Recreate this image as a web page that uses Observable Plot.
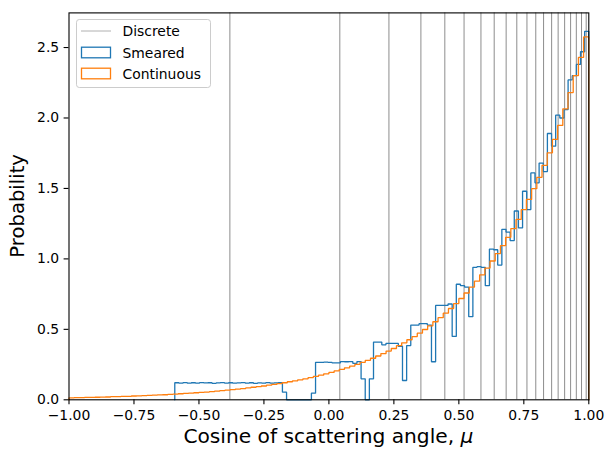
<!DOCTYPE html>
<html>
<head>
<meta charset="utf-8">
<script src="https://cdn.jsdelivr.net/npm/d3@7"></script>
<script src="https://cdn.jsdelivr.net/npm/@observablehq/plot@0.6"></script>
<style>
  html, body { margin: 0; padding: 0; background: white; }
  #chart { width: 606px; height: 450px; }
  svg { display: block; }
</style>
</head>
<body>
<div id="chart"></div>
<script>
// ---- Data ----
const xTicks = [-1, -0.75, -0.5, -0.25, 0, 0.25, 0.5, 0.75, 1];
const yTicks = [0, 0.5, 1, 1.5, 2, 2.5];

// Discrete scattering cosines (vertical lines)
const discreteMu = [-0.381, 0.042, 0.231, 0.354, 0.446, 0.520, 0.585, 0.636, 0.682, 0.723,
                    0.762, 0.796, 0.826, 0.857, 0.882, 0.907, 0.930, 0.952, 0.972, 0.990];

// Continuous histogram: 100 equal bins over this range
const continuousRange = [-1, 1];
const continuousDensity = [
  0.014,0.015,0.016,0.017,0.017,0.018,0.019,0.020,0.022,0.023,
  0.024,0.025,0.027,0.028,0.030,0.031,0.033,0.035,0.036,0.038,
  0.040,0.043,0.045,0.047,0.050,0.053,0.055,0.058,0.061,0.065,
  0.068,0.072,0.076,0.080,0.084,0.089,0.093,0.098,0.104,0.109,
  0.115,0.121,0.128,0.135,0.142,0.149,0.158,0.166,0.175,0.184,
  0.194,0.205,0.216,0.227,0.239,0.252,0.266,0.280,0.295,0.311,
  0.328,0.346,0.364,0.384,0.404,0.426,0.449,0.473,0.499,0.525,
  0.554,0.583,0.615,0.648,0.683,0.719,0.758,0.799,0.842,0.887,
  0.935,0.985,1.038,1.094,1.153,1.215,1.280,1.349,1.422,1.498,
  1.579,1.664,1.753,1.848,1.947,2.065,2.180,2.300,2.430,2.575
];

// Smeared histogram: 100 equal bins over this range
const smearedRange = [-0.593, 1.0];
const smearedDensity = [
  0.121,0.118,0.122,0.118,0.121,0.119,0.122,0.120,0.121,0.117,
  0.120,0.122,0.119,0.121,0.118,0.120,0.122,0.119,0.121,0.117,
  0.120,0.119,0.122,0.118,0.120,0.121,0.054,0,0,0,
  0,0,0,0.047,0.266,0.266,0.267,0.265,0.262,0.262,
  0.271,0.270,0.271,0.259,0.271,0.149,0,0.149,0.410,0.410,
  0.390,0.400,0.400,0.400,0.380,0.137,0.385,0.530,0.530,0.540,
  0.540,0.530,0.270,0.670,0.670,0.670,0.680,0.450,0.820,0.810,
  0.800,0.590,0.940,0.945,0.940,0.810,1.070,1.065,0.956,1.210,
  1.190,1.130,1.340,1.220,1.480,1.350,1.610,1.540,1.680,1.620,
  1.890,1.800,2.020,2.000,2.060,2.270,2.300,2.380,2.470,2.615
];

const seriesNames = ["Discrete", "Smeared", "Continuous"];
const seriesColors = ["#808080", "#1f77b4", "#ff7f0e"];
const xLabel = "Cosine of scattering angle, ";
const xLabelSymbol = "μ";
const yLabel = "Probability";

// ---- Build step outlines (matplotlib histtype="step") ----
function stepOutline(range, vals) {
  const n = vals.length, w = (range[1] - range[0]) / n;
  const pts = [{x: range[0], y: 0}];
  vals.forEach((v, i) => {
    pts.push({x: range[0] + i * w, y: v});
    pts.push({x: range[0] + (i + 1) * w, y: v});
  });
  pts.push({x: range[1], y: 0});
  return pts;
}
const smearedPts = stepOutline(smearedRange, smearedDensity);
const continuousPts = stepOutline(continuousRange, continuousDensity);
const yMax = d3.max([...smearedDensity, ...continuousDensity]) * 1.05;

const W = 606, H = 450;
const mL = 68.5, mR = 17.7, mT = 12.4, mB = 50.7;
const FONT = "DejaVu Sans, sans-serif";

const svg = Plot.plot({
  width: W, height: H,
  marginLeft: mL, marginRight: mR, marginTop: mT, marginBottom: mB,
  style: {fontFamily: FONT, background: "white", color: "black"},
  x: {domain: [-1, 1]},
  y: {domain: [0, yMax]},
  marks: [
    Plot.ruleX(discreteMu, {stroke: seriesColors[0], strokeWidth: 0.9}),
    Plot.line(smearedPts, {x: "x", y: "y", stroke: seriesColors[1], strokeWidth: 1.3, strokeLinejoin: "miter", curve: "linear"}),
    Plot.line(continuousPts, {x: "x", y: "y", stroke: seriesColors[2], strokeWidth: 1.3, strokeLinejoin: "miter", curve: "linear"}),
    Plot.frame({stroke: "black", strokeWidth: 1.1}),
    Plot.axisX({ticks: xTicks, tickFormat: d3.format(".2f"), tickSize: 4.9, tickPadding: 5, fontSize: 13.9, label: null, stroke: "black", strokeWidth: 1.1}),
    Plot.axisY({ticks: yTicks, tickFormat: d3.format(".1f"), tickSize: 4.9, tickPadding: 4.9, fontSize: 13.9, label: null, stroke: "black", strokeWidth: 1.1})
  ]
});
document.getElementById("chart").appendChild(svg);

// ---- Axis labels ----
const s = d3.select(svg);
const xl = s.append("text")
  .attr("x", (mL + (W - mR)) / 2).attr("y", 443)
  .attr("text-anchor", "middle")
  .attr("font-family", FONT).attr("font-size", 20.2).attr("fill", "black")
  .text(xLabel);
xl.append("tspan").attr("font-style", "italic").text(xLabelSymbol);

s.append("text")
  .attr("transform", `translate(24,${(mT + (H - mB)) / 2}) rotate(-90)`)
  .attr("text-anchor", "middle")
  .attr("font-family", FONT).attr("font-size", 19.6).attr("fill", "black")
  .text(yLabel);

// ---- Legend ----
const lg = s.append("g").attr("text-anchor", "start");
lg.append("rect").attr("x", 76.5).attr("y", 19.5).attr("width", 134).attr("height", 68)
  .attr("rx", 2.8).attr("fill", "white").attr("fill-opacity", 0.8)
  .attr("stroke", "#cccccc").attr("stroke-width", 1);
const rowsY = [31, 52.5, 73.5];
lg.append("line").attr("x1", 81).attr("x2", 111).attr("y1", rowsY[0]).attr("y2", rowsY[0])
  .attr("stroke", "#b0b0b0").attr("stroke-width", 1);
[1, 2].forEach(i => {
  lg.append("rect").attr("x", 81.5).attr("y", rowsY[i] - 5.3).attr("width", 29).attr("height", 10.6)
    .attr("fill", "none").attr("stroke", seriesColors[i]).attr("stroke-width", 1.3);
});
seriesNames.forEach((name, i) => {
  lg.append("text").attr("x", 122.5).attr("y", rowsY[i] + 5)
    .attr("text-anchor", "start")
    .attr("font-family", FONT).attr("font-size", 13.9).attr("fill", "black")
    .text(name);
});
</script>
</body>
</html>
